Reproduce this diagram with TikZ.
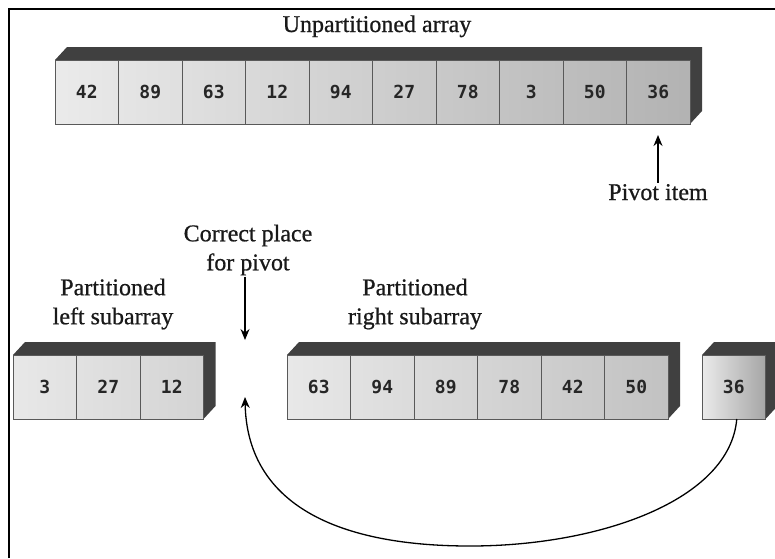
\documentclass[tikz,border=0pt]{standalone}
\usepackage{fontspec}
\setmainfont{Liberation Serif}
\newfontfamily\capfont[FakeBold=0.7]{Liberation Serif}
\newfontfamily\cellfont{DejaVu Sans Mono}
\usetikzlibrary{positioning, arrows.meta, backgrounds, calc}
\tikzset{
    >={Stealth[length=11pt,width=9pt]}, % filled arrow heads
    cell/.style={draw=black!65, line width=0.8pt, minimum width=63.5pt, minimum height=64pt,
        inner sep=0pt, outer sep=0pt, text=black!85,
        font=\cellfont\bfseries\fontsize{18}{18}\selectfont}, % one box of an array
    lbl/.style={inner sep=1pt, align=center, text=black!90,
        font=\capfont\fontsize{24}{29}\selectfont}, % captions
    slab/.style={fill=black!75}, % dark top and side of an array
    arrow/.style={->, line width=1.3pt},
    frame/.style={line width=2.5pt},
}

\begin{document}
\begin{tikzpicture}[x=1pt, y=-1pt]
    \useasboundingbox (0,0) rectangle (775,558);
    \draw[frame] (9,558) -- (9,9) -- (775,9);

    % unpartitioned array
    \node[cell, anchor=north west] (t1) at (55,60) {42};
    \node[cell, right=0pt of t1] (t2) {89};
    \node[cell, right=0pt of t2] (t3) {63};
    \node[cell, right=0pt of t3] (t4) {12};
    \node[cell, right=0pt of t4] (t5) {94};
    \node[cell, right=0pt of t5] (t6) {27};
    \node[cell, right=0pt of t6] (t7) {78};
    \node[cell, right=0pt of t7] (t8) {3};
    \node[cell, right=0pt of t8] (t9) {50};
    \node[cell, right=0pt of t9] (t10) {36};

    % left subarray
    \node[cell, anchor=north west] (l1) at (13,355) {3};
    \node[cell, right=0pt of l1] (l2) {27};
    \node[cell, right=0pt of l2] (l3) {12};

    % right subarray
    \node[cell, anchor=north west] (r1) at (287,355) {63};
    \node[cell, right=0pt of r1] (r2) {94};
    \node[cell, right=0pt of r2] (r3) {89};
    \node[cell, right=0pt of r3] (r4) {78};
    \node[cell, right=0pt of r4] (r5) {42};
    \node[cell, right=0pt of r5] (r6) {50};

    % pivot on its own
    \node[cell, anchor=north west] (p1) at (702,355) {36};

    \begin{scope}[on background layer]
        \fill[slab] (t1.north west) -- ++(12,-13) -- ($(t10.north east)+(12,-13)$) -- ($(t10.south east)+(12,-13)$) -- (t10.south east) -- cycle;
        \shade[left color=black!8, right color=black!30] (t1.north west) rectangle (t10.south east);
        \fill[slab] (l1.north west) -- ++(12,-13) -- ($(l3.north east)+(12,-13)$) -- ($(l3.south east)+(12,-13)$) -- (l3.south east) -- cycle;
        \shade[left color=black!9, right color=black!17] (l1.north west) rectangle (l3.south east);
        \fill[slab] (r1.north west) -- ++(12,-13) -- ($(r6.north east)+(12,-13)$) -- ($(r6.south east)+(12,-13)$) -- (r6.south east) -- cycle;
        \shade[left color=black!9, right color=black!24] (r1.north west) rectangle (r6.south east);
        \fill[slab] (p1.north west) -- ++(12,-13) -- ($(p1.north east)+(12,-13)$) -- ($(p1.south east)+(12,-13)$) -- (p1.south east) -- cycle;
        \shade[left color=black!8, right color=black!35] (p1.north west) rectangle (p1.south east);
    \end{scope}

    % captions
    \node[lbl, anchor=base] (title) at (377,32) {Unpartitioned array};
    \node[lbl, anchor=base] (pivot) at (658,200) {Pivot item};
    \node[lbl] (correct) at (248,250) {Correct place\\for pivot};
    \node[lbl] (leftlbl) at (113,304) {Partitioned\\left subarray};
    \node[lbl] (rightlbl) at (415,304) {Partitioned\\right subarray};

    % arrows
    \coordinate (pivottip) at (658,135);
    \coordinate (slottop) at (245,340);
    \coordinate (slotbot) at (245,397);
    \draw[arrow] (pivot.north) -- (pivottip);
    \draw[arrow] (correct.south -| slottop) -- (slottop);
    \draw[arrow] ([xshift=3pt]p1.south) .. controls (730,500) and (600,546) .. (470,546)
        .. controls (330,546) and (247,500) .. (slotbot);
\end{tikzpicture}
\end{document}
